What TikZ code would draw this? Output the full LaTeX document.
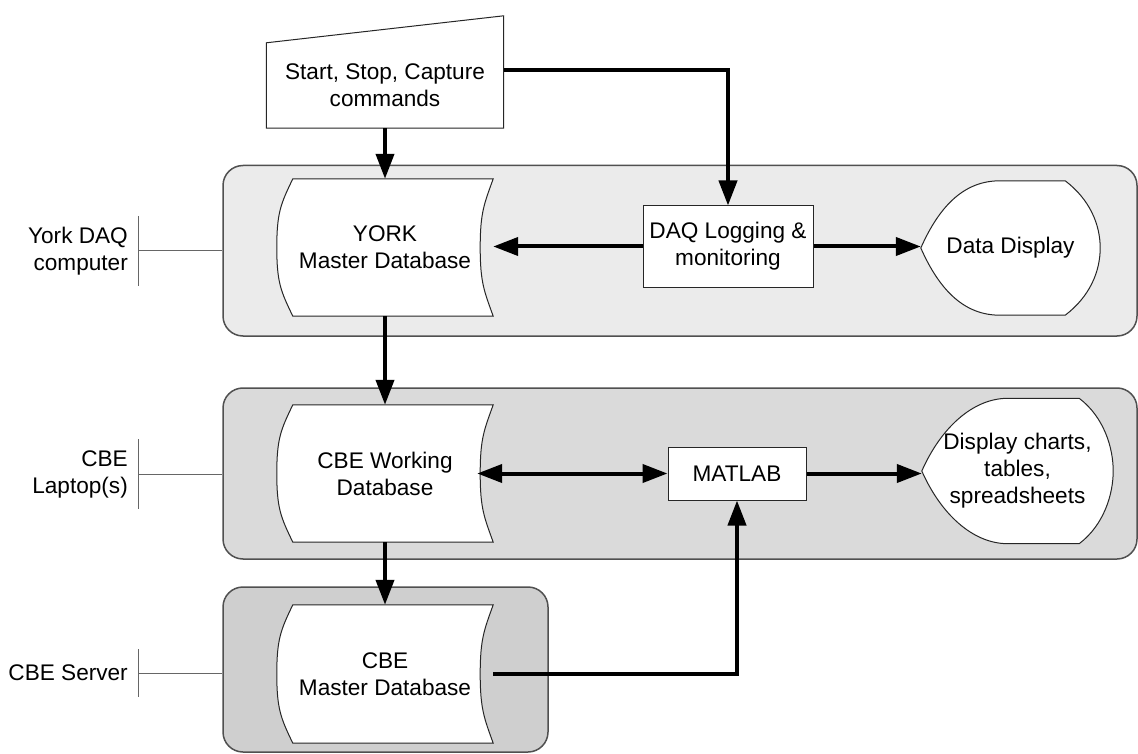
\documentclass[tikz,border=0pt]{standalone}
\usepackage{fontspec}
\setmainfont{Liberation Sans}
\usetikzlibrary{arrows.meta,calc}
\pgfdeclarelayer{bg}
\pgfdeclarelayer{mid}
\pgfsetlayers{bg,mid,main}
\definecolor{yorkfill}{HTML}{EBEBEB}
\definecolor{lapfill}{HTML}{DADADA}
\definecolor{srvfill}{HTML}{CFCFCF}
\definecolor{grpline}{HTML}{505050}
\tikzset{
  grp/.style={draw=grpline, line width=1.5pt, rounded corners=20pt, inner sep=0pt},
  txt/.style={font=\fontsize{22.6}{27}\selectfont, align=center, inner sep=0pt},
  lbl/.style={txt, align=right, anchor=east},
  outline/.style={draw=black!85, line width=1pt, fill=white},
  thinline/.style={draw=black!60, line width=1pt},
  flow/.style={line width=4pt, -{Triangle[length=25pt,width=18pt]}},
  biflow/.style={line width=4pt, {Triangle[length=25pt,width=18pt]}-{Triangle[length=25pt,width=18pt]}}
}
\newcommand\storedshape[1]{%
  \draw[outline] ($(#1.north west)+(16,0)$) -- (#1.north east)
    .. controls +(-9,25) and +(0,-35) .. ($(#1.east)+(-13,0)$)
    .. controls +(0,35) and +(-9,-25) .. (#1.south east)
    -- ($(#1.south west)+(16,0)$)
    .. controls +(-12,-25) and +(0,35) .. (#1.west)
    .. controls +(0,-35) and +(-12,25) .. ($(#1.north west)+(16,0)$) -- cycle;}
\newcommand\dispshape[3]{%
  \draw[outline] (#1.west)
    .. controls +(19,-43) and +(-35,0) .. ($(#1.north west)+(#2,0)$)
    -- ($(#1.north east)+(-#3,0)$)
    .. controls +(25,19) and +(0,-23) .. (#1.east)
    .. controls +(0,23) and +(25,-19) .. ($(#1.south east)+(-#3,0)$)
    -- ($(#1.south west)+(#2,0)$)
    .. controls +(-35,0) and +(19,43) .. (#1.west) -- cycle;}
\begin{document}
\begin{tikzpicture}[x=1pt,y=-1pt]
\useasboundingbox (0,0) rectangle (1138,754);

% groups
\begin{pgfonlayer}{bg}
\node[grp, fill=yorkfill, minimum width=914pt, minimum height=170.5pt] (yorkgrp) at (680,250.75) {};
\node[grp, fill=lapfill, minimum width=914pt, minimum height=171pt] (lapgrp) at (680,473.5) {};
\node[grp, fill=srvfill, minimum width=325pt, minimum height=165pt] (srvgrp) at (385.5,669.5) {};
\end{pgfonlayer}

% text nodes
\node[txt, minimum width=237pt, minimum height=85pt] (cmd) at (385,85.5) {Start, Stop, Capture\\commands};
\node[txt, minimum width=216pt, minimum height=137pt] (ydb) at (385,247.5) {YORK\\Master Database};
\node[txt, outline, minimum width=170pt, minimum height=81pt] (daq) at (728,246.5) {DAQ Logging \&\\monitoring};
\node[txt, minimum width=179pt, minimum height=134pt] (dd) at (1010.5,248) {Data Display};
\node[txt, minimum width=216pt, minimum height=137pt] (cwdb) at (385,473.5) {CBE Working\\Database};
\node[txt, outline, minimum width=138pt, minimum height=53pt] (mat) at (737,473.5) {MATLAB};
\node[txt, minimum width=191pt, minimum height=145pt] (dc) at (1017.5,471) {Display charts,\\tables,\\spreadsheets};
\node[txt, minimum width=216pt, minimum height=138pt] (cmdb) at (385,674) {CBE\\Master Database};

% shape outlines
\begin{pgfonlayer}{mid}
\draw[outline] (cmd.south west) -- (cmd.north west) -- ($(cmd.north east)+(0,-27)$) -- (cmd.south east) -- cycle;
\storedshape{ydb}
\storedshape{cwdb}
\storedshape{cmdb}
\dispshape{dd}{79}{35}
\dispshape{dc}{86}{34}
\end{pgfonlayer}

% side labels
\node[lbl] (ylbl) at (128,251) {York DAQ\\computer};
\coordinate (ybar) at (138,251);
\draw[thinline] ($(ybar)+(0,-35)$) -- ($(ybar)+(0,35)$);
\draw[thinline] (ybar) -- (yorkgrp.west |- ybar);

\node[lbl] (llbl) at (128,474) {CBE\\Laptop(s)};
\coordinate (lbar) at (138,474);
\draw[thinline] ($(lbar)+(0,-35)$) -- ($(lbar)+(0,35)$);
\draw[thinline] (lbar) -- (lapgrp.west |- lbar);

\node[lbl] (slbl) at (128,673) {CBE Server};
\coordinate (sbar) at (138,673);
\draw[thinline] ($(sbar)+(0,-24)$) -- ($(sbar)+(0,24)$);
\draw[thinline] (sbar) -- (srvgrp.west |- sbar);

% connectors
\coordinate (cmdout) at ($(cmd.east)+(0,-15.5)$);
\coordinate (cwin) at ($(cwdb.east)+(-16,0)$);
\draw[flow] (cmd.south) -- (ydb.north);
\draw[flow] (cmdout) -| (daq.north);
\draw[flow] (daq.west) -- (daq.west -| ydb.east);
\draw[flow] (daq.east) -- (daq.east -| dd.west);
\draw[flow] (ydb.south) -- (cwdb.north);
\draw[biflow] (cwin) -- (mat.west);
\draw[flow] (mat.east) -- (mat.east -| dc.west);
\draw[flow] (cwdb.south) -- (cmdb.north);
\draw[flow] (cmdb.east) -| (mat.south);
\end{tikzpicture}
\end{document}
